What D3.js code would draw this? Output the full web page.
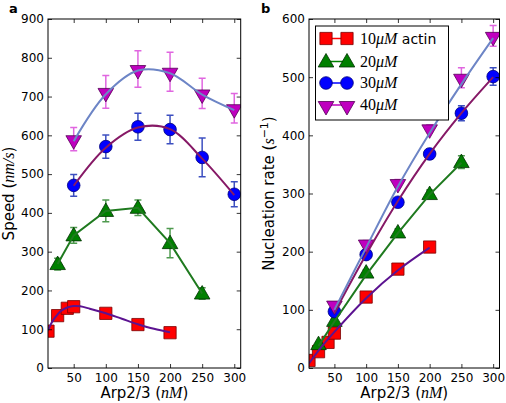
<!DOCTYPE html>
<html><head><meta charset="utf-8">
<script src="https://cdn.jsdelivr.net/npm/d3@7"></script>
<style>
body{margin:0;background:#fff;}
svg text{font-family:"DejaVu Sans",sans-serif;}
.m{font-family:"Liberation Serif",serif;font-style:italic;}
.r{font-family:"Liberation Serif",serif;font-style:normal;}
</style></head><body>
<script>
// ---------- data ----------
const xTicks = [50,100,150,200,250,300];
const speedTicks = [0,100,200,300,400,500,600,700,800,900];
const rateTicks = [0,100,200,300,400,500,600];
const seriesNames = ["10", "20", "30", "40"];

// panel a: speed (nm/s)
const xA10 = [10,25,40,50,100,150,200];
const speed10 = [95,135,154,158,141,112,91];
const speedErr10 = [4,4,4,4,5,5,4];
const xA20 = [25,50,100,150,200,250];
const speed20 = [268,342,405,413,322,192];
const speedErr20 = [15,20,28,20,38,15];
const xA30 = [50,100,150,200,250,300];
const speed30 = [471,571,622,615,543,448];
const speedErr30 = [28,30,35,37,50,32];
const xA40 = [50,100,150,200,250,300];
const speed40 = [590,712,771,764,708,670];
const speedErr40 = [30,42,47,50,39,38];
// fitted curves, panel a
const fitXA10 = [10,15,20,25,30,40,50,60,75,100,125,150,175,200];
const fitA10 = [97,115,128,138,147,156,160,159,153,141,127,113,101,92];
const fitXA20 = [25,50,100,150,200,250];
const fitA20 = [268,342,405,413,322,192];
const fitXA30 = [50,100,150,200,250,300];
const fitA30 = [470,568,620,616,540,446];
const fitXA40 = [50,100,150,200,250,300];
const fitA40 = [585,706,767,760,705,665];

// panel b: nucleation rate (1/s)
const xB10 = [10,25,40,50,100,150,200];
const rate10 = [13,28,44,60,122,170,208];
const rateErr10 = [2,2,2,3,3,3,3];
const xB20 = [25,50,100,150,200,250];
const rate20 = [41,81,164,233,299,354];
const rateErr20 = [3,4,5,6,7,11];
const xB30 = [50,100,150,200,250,300];
const rate30 = [97,195,285,368,438,501];
const rateErr30 = [4,5,6,8,13,15];
const xB40 = [50,100,150,200,250,300];
const rate40 = [109,214,318,412,499,571];
const rateErr40 = [4,5,6,6,17,18];
// fitted curves, panel b
const fitXB10 = [10,25,50,100,150,200];
const fitB10 = [8,30,62,120,168,207];
const fitXB20 = [25,50,100,150,200,250];
const fitB20 = [38,80,160,232,298,353];
const fitXB30 = [50,100,150,200,250,300];
const fitB30 = [95,195,287,368,438,500];
const fitXB40 = [50,100,150,200,250,300];
const fitB40 = [100,207,312,404,488,567];

// ---------- styles ----------
const sty = {
  "10": {fill:"#ff0000", edge:"#7a0000", err:"#ff0000", fit:"#5c1391", sym:"square"},
  "20": {fill:"#008000", edge:"#003000", err:"#4f9a4f", fit:"#1f7a1f", sym:"up"},
  "30": {fill:"#0000ff", edge:"#00007a", err:"#3c4fc0", fit:"#861966", sym:"circle"},
  "40": {fill:"#bf00bf", edge:"#550055", err:"#e066e0", fit:"#6d85c6", sym:"down"}
};

const svg = d3.select("body").append("svg").attr("width",506).attr("height",403);

function symPath(kind){
  if(kind==="square") return d3.symbol(d3.symbolSquare,150)();
  if(kind==="circle") return d3.symbol(d3.symbolCircle,125)();
  return d3.symbol(d3.symbolTriangle,105)();
}
function drawMarker(g, kind, st, x, y){
  const p = g.append("path").attr("d", symPath(kind))
    .attr("fill", st.fill).attr("stroke", st.edge).attr("stroke-width",0.8);
  if(kind==="down") p.attr("transform",`translate(${x},${y+1}) rotate(180)`);
  else if(kind==="up") p.attr("transform",`translate(${x},${y+1})`);
  else p.attr("transform",`translate(${x},${y})`);
}

function panel(cfg){
  const {left,top,right,bottom,ymax,yticks,series,id} = cfg;
  const x = d3.scaleLinear().domain([10,310]).range([left,right]);
  const y = d3.scaleLinear().domain([0,ymax]).range([bottom,top]);
  const g = svg.append("g");
  svg.append("clipPath").attr("id",id).append("rect")
    .attr("x",left).attr("y",top).attr("width",right-left).attr("height",bottom-top);
  const plot = g.append("g").attr("clip-path",`url(#${id})`);

  series.forEach(s=>{
    const st = sty[s.name];
    s.x.forEach((xv,i)=>{
      const cx=x(xv), y0=y(s.y[i]-s.e[i]), y1=y(s.y[i]+s.e[i]);
      plot.append("line").attr("x1",cx).attr("x2",cx).attr("y1",y0).attr("y2",y1)
        .attr("stroke",st.err).attr("stroke-width",1.5);
      [y0,y1].forEach(yy=>plot.append("line").attr("x1",cx-3.5).attr("x2",cx+3.5)
        .attr("y1",yy).attr("y2",yy).attr("stroke",st.err).attr("stroke-width",1.5));
    });
    s.x.forEach((xv,i)=>drawMarker(plot, st.sym, st, x(xv), y(s.y[i])));
  });
  series.forEach(s=>{
    const st = sty[s.name];
    const pts = s.fx.map((xv,i)=>[xv,s.fy[i]]);
    plot.append("path").datum(pts)
      .attr("d", d3.line().x(d=>x(d[0])).y(d=>y(d[1])).curve(s.curve||d3.curveLinear))
      .attr("fill","none").attr("stroke",st.fit).attr("stroke-width",2);
  });

  const ax = (gen, tr, labels) => {
    const a = g.append("g").attr("transform",tr).call(gen);
    a.select(".domain").remove();
    a.selectAll(".tick line").attr("stroke","#000").attr("stroke-width",0.8);
    a.selectAll("text").attr("font-size",12).attr("fill","#000").attr("font-family","DejaVu Sans");
    if(!labels) a.selectAll("text").remove();
    return a;
  };
  ax(d3.axisBottom(x).tickValues(xTicks).tickSize(-4).tickPadding(5), `translate(0,${bottom})`, true);
  ax(d3.axisTop(x).tickValues(xTicks).tickSize(-4), `translate(0,${top})`, false);
  ax(d3.axisLeft(y).tickValues(yticks).tickSize(-4).tickPadding(4), `translate(${left},0)`, true);
  ax(d3.axisRight(y).tickValues(yticks).tickSize(-4), `translate(${right},0)`, false);
  g.append("rect").attr("x",left).attr("y",top).attr("width",right-left).attr("height",bottom-top)
    .attr("fill","none").attr("stroke","#000").attr("stroke-width",1);

  const xl = g.append("text").attr("x",(left+right)/2).attr("y",398).attr("text-anchor","middle")
    .attr("font-size",15);
  xl.append("tspan").text("Arp2/3 (");
  xl.append("tspan").attr("class","m").attr("font-size",16).text("nM");
  xl.append("tspan").text(")");
  return {g,x,y};
}

const mk = (name,xs,ys,es,fx,fy,curve)=>({name,x:xs,y:ys,e:es,fx,fy,curve});

panel({id:"ca",left:48,top:19,right:240.7,bottom:368,ymax:900,yticks:speedTicks,
  series:[
    mk("20",xA20,speed20,speedErr20,fitXA20,fitA20),
    mk("10",xA10,speed10,speedErr10,fitXA10,fitA10,d3.curveCatmullRom),
    mk("30",xA30,speed30,speedErr30,fitXA30,fitA30,d3.curveCatmullRom),
    mk("40",xA40,speed40,speedErr40,fitXA40,fitA40,d3.curveCatmullRom)
  ]});
panel({id:"cb",left:309,top:19,right:499.5,bottom:368,ymax:600,yticks:rateTicks,
  series:[
    mk("10",xB10,rate10,rateErr10,fitXB10,fitB10,d3.curveCatmullRom),
    mk("20",xB20,rate20,rateErr20,fitXB20,fitB20),
    mk("30",xB30,rate30,rateErr30,fitXB30,fitB30,d3.curveCatmullRom),
    mk("40",xB40,rate40,rateErr40,fitXB40,fitB40,d3.curveCatmullRom)
  ]});

// y labels
const yla = svg.append("text").attr("transform","translate(14,193.5) rotate(-90)")
  .attr("text-anchor","middle").attr("font-size",15);
yla.append("tspan").text("Speed (");
yla.append("tspan").attr("class","m").attr("font-size",16).text("nm/s");
yla.append("tspan").text(")");
const ylb = svg.append("text").attr("transform","translate(274,193.5) rotate(-90)")
  .attr("text-anchor","middle").attr("font-size",15);
ylb.append("tspan").text("Nucleation rate (");
ylb.append("tspan").attr("class","m").attr("font-size",16).text("s");
ylb.append("tspan").attr("font-size",11).attr("dy",-6).text("\u22121");
ylb.append("tspan").attr("dy",6).text(")");

// panel letters
svg.append("text").attr("x",9).attr("y",13).attr("font-size",13).attr("font-weight","bold").text("a");
svg.append("text").attr("x",261).attr("y",13).attr("font-size",13).attr("font-weight","bold").text("b");

// legend
const lg = svg.append("g");
lg.append("rect").attr("x",315.5).attr("y",26).attr("width",133).attr("height",94)
  .attr("fill","#fff").attr("stroke","#000").attr("stroke-width",1);
const legY = [38.5,61.5,83,105];
seriesNames.forEach((n,i)=>{
  const st = sty[n], yy = legY[i];
  lg.append("line").attr("x1",326).attr("x2",347).attr("y1",yy).attr("y2",yy)
    .attr("stroke",st.fill).attr("stroke-width",1.5);
  drawMarker(lg, st.sym, st, 326, yy);
  drawMarker(lg, st.sym, st, 347, yy);
  const t = lg.append("text").attr("x",360).attr("y",yy+5).attr("font-size",14);
  t.append("tspan").attr("class","r").attr("font-size",16).text(n);
  t.append("tspan").attr("class","m").attr("font-size",16).text("\u03bcM");
  if(i===0) t.append("tspan").text(" actin");
});
</script>
</body></html>
